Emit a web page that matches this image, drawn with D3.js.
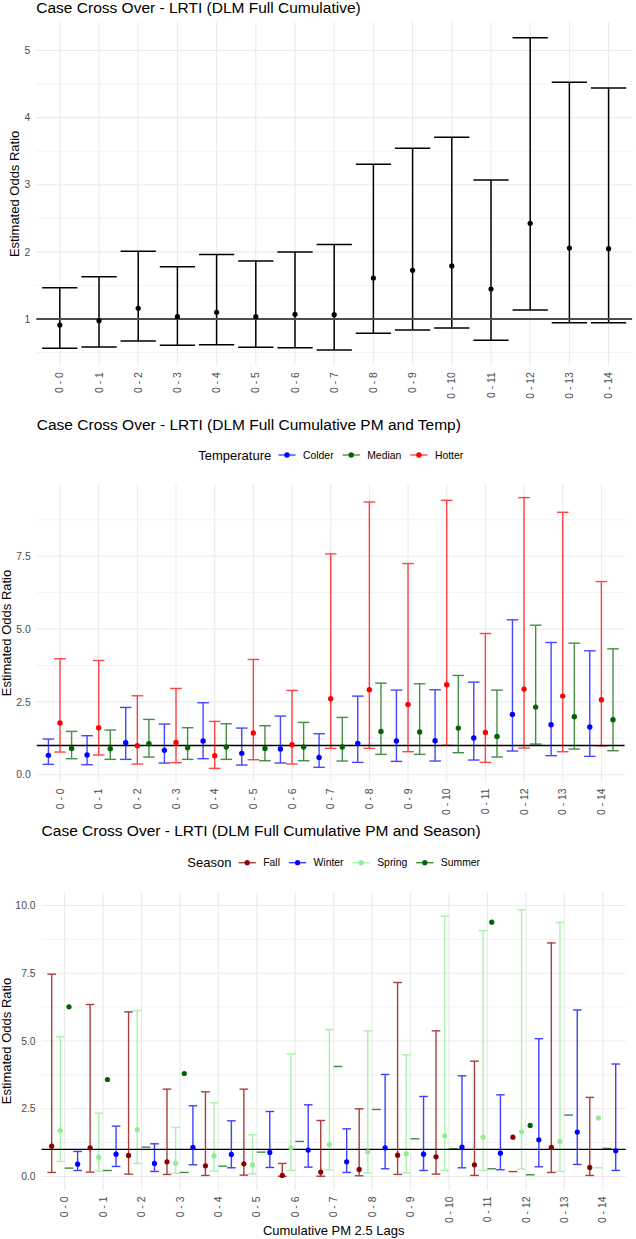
<!DOCTYPE html>
<html><head><meta charset="utf-8">
<script src="https://cdn.jsdelivr.net/npm/d3@7"></script>
<style>html,body{margin:0;padding:0;background:#fff;}svg{display:block;font-family:"Liberation Sans",Arial,Helvetica,sans-serif;}</style>
</head><body>
<svg id="chart" width="636" height="1239"></svg>
<script>
// ---------- data ----------
const lags = ["0 - 0","0 - 1","0 - 2","0 - 3","0 - 4","0 - 5","0 - 6","0 - 7","0 - 8","0 - 9","0 - 10","0 - 11","0 - 12","0 - 13","0 - 14"];

// Panel 1: overall
const p1Est   = [0.91, 0.975, 1.16, 1.035, 1.10, 1.035, 1.07, 1.065, 1.61, 1.725, 1.79, 1.447, 2.426, 2.058, 2.048];
const p1Lower = [0.563, 0.583, 0.672, 0.607, 0.617, 0.578, 0.573, 0.538, 0.786, 0.836, 0.866, 0.682, 1.134, 0.945, 0.945];
const p1Upper = [1.467, 1.63, 2.01, 1.78, 1.96, 1.865, 2.00, 2.11, 3.305, 3.544, 3.708, 3.07, 5.19, 4.528, 4.443];
const p1Ticks = [1, 2, 3, 4, 5];
const p1Minor = [0.5, 1.5, 2.5, 3.5, 4.5];

// Panel 2: temperature
const tempGroups = ["Colder", "Median", "Hotter"];
const colderEst   = [0.663, 0.675, 1.098, 0.835, 1.155, 0.732, 0.88, 0.594, 1.075, 1.155, 1.166, 1.258, 2.069, 1.715, 1.635];
const colderLower = [0.354, 0.343, 0.526, 0.40, 0.549, 0.332, 0.40, 0.252, 0.423, 0.457, 0.469, 0.503, 0.812, 0.652, 0.629];
const colderUpper = [1.223, 1.338, 2.309, 1.738, 2.469, 1.60, 2.012, 1.406, 2.698, 2.904, 2.915, 3.178, 5.316, 4.539, 4.253];
const medianEst   = [0.903, 0.892, 1.063, 0.926, 0.949, 0.903, 0.949, 0.949, 1.486, 1.463, 1.60, 1.315, 2.321, 1.989, 1.886];
const medianLower = [0.549, 0.526, 0.606, 0.526, 0.526, 0.48, 0.48, 0.469, 0.697, 0.697, 0.755, 0.606, 1.052, 0.88, 0.823];
const medianUpper = [1.486, 1.532, 1.898, 1.612, 1.749, 1.681, 1.795, 1.966, 3.144, 3.121, 3.407, 2.904, 5.133, 4.516, 4.321];
const hotterEst   = [1.772, 1.612, 0.995, 1.109, 0.652, 1.429, 1.029, 2.607, 2.915, 2.412, 3.087, 1.452, 2.938, 2.698, 2.572];
const hotterLower = [0.777, 0.675, 0.366, 0.412, 0.217, 0.514, 0.366, 0.903, 0.903, 0.789, 1.006, 0.423, 0.915, 0.789, 0.99];
const hotterUpper = [3.98, 3.921, 2.709, 2.961, 1.829, 3.956, 2.892, 7.58, 9.363, 7.248, 9.42, 4.847, 9.512, 9.009, 6.631];
const p2Ticks = [0, 2.5, 5, 7.5];
const p2Minor = [1.25, 3.75, 6.25, 8.75];

// Panel 3: season (null = outside the 0-10 limits, removed)
const seasonGroups = ["Fall", "Winter", "Spring", "Summer"];
const fallEst     = [1.119, 1.058, 0.775, 0.541, 0.394, 0.467, 0.037, 0.16, 0.258, 0.787, 0.726, 0.43, 1.45, 1.071, 0.333];
const fallLower   = [0.148, 0.16, 0.086, 0.074, 0.037, 0.049, 0.005, 0.01, 0.025, 0.074, 0.086, 0.037, 0.18, 0.148, 0.037];
const fallUpper   = [7.466, 6.347, 6.076, 3.223, 3.124, 3.223, 0.48, 2.066, 2.497, 7.159, 5.375, 4.256, null, 8.62, 2.919];
const winterEst   = [0.455, 0.824, 0.48, 1.07, 0.812, 0.886, 0.972, 0.541, 1.058, 0.824, 1.082, 0.861, 1.355, 1.638, 0.948];
const winterLower = [0.221, 0.369, 0.185, 0.43, 0.32, 0.332, 0.344, 0.148, 0.283, 0.221, 0.32, 0.246, 0.357, 0.443, 0.222];
const winterUpper = [0.923, 1.857, 1.205, 2.608, 2.054, 2.398, 2.645, 1.759, 3.764, 2.952, 3.715, 3.013, 5.086, 6.145, 4.15];
const springEst   = [1.697, 0.701, 1.734, 0.492, 0.763, 0.43, 1.058, 1.181, 0.91, 0.836, 1.501, 1.451, 1.65, 1.293, 2.155];
const springLower = [0.554, 0.197, 0.48, 0.123, 0.197, 0.098, 0.221, 0.246, 0.135, 0.135, 0.221, 0.221, 0.27, 0.185, 0.32];
const springUpper = [5.154, 2.337, 6.125, 1.808, 2.718, 1.538, 4.514, 5.424, 5.375, 4.49, 9.606, 9.077, 9.84, 9.372, null];
const summerEst   = [6.26, 3.579, null, 3.80, null, null, null, null, null, null, null, 9.385, 1.884, null, null];
const summerLower = [0.308, 0.221, 1.082, 0.148, 0.381, 0.898, 1.292, 4.059, 2.472, 1.39, 1.021, 0.283, 0.062, 2.266, 1.034];
const summerUpper = [null, null, null, null, null, null, null, null, null, null, null, null, null, null, null];
const p3Limits = [0, 10];
const p3Ticks = [0, 2.5, 5, 7.5, 10];
const p3Minor = [1.25, 3.75, 6.25, 8.75];

// ---------- drawing ----------
const svg = d3.select("#chart");
const FONT_TITLE = 15.5, FONT_AXIS_TITLE = 13, FONT_TICK = 10.4, FONT_LEG = 10.4;

function rows(group, est, lo, hi) {
  return est.map((e, i) => ({lag: lags[i], group, est: e, lower: lo[i], upper: hi[i]}));
}

function drawPanel(cfg) {
  const g = svg.append("g");
  const x = d3.scalePoint().domain(lags).range([cfg.left, cfg.right]).padding(0.6);
  const step = x.step();
  let yDomain;
  if (cfg.limits) yDomain = cfg.limits;
  else {
    const vals = [];
    cfg.data.forEach(d => { [d.lower, d.upper, d.est].forEach(v => { if (v != null) vals.push(v); }); });
    yDomain = d3.extent(vals);
  }
  const span = yDomain[1] - yDomain[0];
  const y = d3.scaleLinear().domain([yDomain[0] - 0.05 * span, yDomain[1] + 0.05 * span]).range([cfg.bottom, cfg.top]);
  const dodge = d3.scaleBand().domain(cfg.dodgeOrder).range([-0.45 * step, 0.45 * step]);
  const bw = dodge.bandwidth();
  const xPos = d => x(d.lag) + dodge(d.group) + bw / 2;
  const capHalf = cfg.capHalf != null ? cfg.capHalf(step) : bw / 2;

  // grid
  g.selectAll(".minor").data(cfg.minor).join("line")
    .attr("x1", cfg.left).attr("x2", cfg.right).attr("y1", d => y(d)).attr("y2", d => y(d))
    .attr("stroke", "#EBEBEB").attr("stroke-width", 0.6);
  g.selectAll(".major").data(cfg.ticks).join("line")
    .attr("x1", cfg.left).attr("x2", cfg.right).attr("y1", d => y(d)).attr("y2", d => y(d))
    .attr("stroke", "#EBEBEB").attr("stroke-width", 1.1);
  g.selectAll(".vgrid").data(lags).join("line")
    .attr("x1", d => x(d)).attr("x2", d => x(d)).attr("y1", cfg.top).attr("y2", cfg.bottom)
    .attr("stroke", "#EBEBEB").attr("stroke-width", 1.1);

  // y tick labels
  g.selectAll(".ytl").data(cfg.ticks).join("text")
    .attr("x", cfg.left - 6).attr("y", d => y(d)).attr("dy", "0.35em")
    .attr("text-anchor", "end").attr("font-size", FONT_TICK).attr("fill", "#4D4D4D")
    .text(d => cfg.tickFmt(d));
  // x tick labels
  g.selectAll(".xtl").data(lags).join("text")
    .attr("transform", d => `translate(${x(d)},${cfg.bottom + 6.5}) rotate(-90)`)
    .attr("dy", "0.35em").attr("text-anchor", "end")
    .attr("font-size", FONT_TICK).attr("fill", "#4D4D4D").text(d => d);

  // error bars
  const eb = g.append("g").attr("opacity", cfg.barOpacity);
  const withUpper = cfg.data.filter(d => d.upper != null && d.lower != null);
  eb.selectAll(".v").data(withUpper).join("line")
    .attr("x1", xPos).attr("x2", xPos).attr("y1", d => y(d.lower)).attr("y2", d => y(d.upper))
    .attr("stroke", d => cfg.color(d.group)).attr("stroke-width", cfg.barWidth);
  eb.selectAll(".cu").data(withUpper).join("line")
    .attr("x1", d => xPos(d) - capHalf).attr("x2", d => xPos(d) + capHalf)
    .attr("y1", d => y(d.upper)).attr("y2", d => y(d.upper))
    .attr("stroke", d => cfg.color(d.group)).attr("stroke-width", cfg.barWidth);
  eb.selectAll(".cl").data(cfg.data.filter(d => d.lower != null)).join("line")
    .attr("x1", d => xPos(d) - capHalf).attr("x2", d => xPos(d) + capHalf)
    .attr("y1", d => y(d.lower)).attr("y2", d => y(d.lower))
    .attr("stroke", d => cfg.color(d.group)).attr("stroke-width", cfg.barWidth);

  // reference line
  g.append("line").attr("x1", cfg.left).attr("x2", cfg.right).attr("y1", y(1)).attr("y2", y(1))
    .attr("stroke", cfg.hlineColor).attr("stroke-width", cfg.hlineWidth);

  // points
  g.selectAll(".pt").data(cfg.data.filter(d => d.est != null)).join("circle")
    .attr("cx", xPos).attr("cy", d => y(d.est)).attr("r", cfg.pointR)
    .attr("fill", d => cfg.color(d.group));

  // titles
  svg.append("text").attr("x", cfg.left).attr("y", cfg.titleY)
    .attr("font-size", FONT_TITLE).attr("fill", "#000").text(cfg.title);
  svg.append("text")
    .attr("transform", `translate(${cfg.yTitleX},${(cfg.top + cfg.bottom) / 2}) rotate(-90)`)
    .attr("dy", "0.35em").attr("text-anchor", "middle")
    .attr("font-size", FONT_AXIS_TITLE).attr("fill", "#000").text("Estimated Odds Ratio");
  if (cfg.xTitle) {
    svg.append("text").attr("x", (cfg.left + cfg.right) / 2).attr("y", cfg.xTitleY)
      .attr("text-anchor", "middle").attr("font-size", FONT_AXIS_TITLE).attr("fill", "#000").text(cfg.xTitle);
  }

  // legend (centred on the panel)
  if (cfg.legend) {
    const L = cfg.legend;
    const lg = svg.append("g");
    const t = lg.append("text").attr("y", L.y).attr("dy", "0.35em")
      .attr("font-size", FONT_AXIS_TITLE).attr("fill", "#000").text(L.title);
    let cx = t.node().getComputedTextLength() + 7.2;
    L.groups.forEach(gr => {
      const k = lg.append("g").attr("transform", `translate(${cx},0)`);
      k.append("line").attr("x1", 0).attr("x2", 17.2).attr("y1", L.y).attr("y2", L.y)
        .attr("stroke", cfg.color(gr)).attr("stroke-width", cfg.barWidth).attr("opacity", cfg.barOpacity);
      k.append("circle").attr("cx", 8.6).attr("cy", L.y).attr("r", cfg.pointR).attr("fill", cfg.color(gr));
      cx += 17.2 + 7.4;
      const lt = lg.append("text").attr("x", cx).attr("y", L.y).attr("dy", "0.35em")
        .attr("font-size", FONT_LEG).attr("fill", "#000").text(gr);
      cx += lt.node().getComputedTextLength() + 9;
    });
    const total = cx - 9;
    lg.attr("transform", `translate(${(cfg.left + cfg.right) / 2 - total / 2},0)`);
  }
}

// Panel 1
drawPanel({
  data: rows("All", p1Est, p1Lower, p1Upper),
  dodgeOrder: ["All"], color: () => "#000",
  left: 36.3, right: 632.1, top: 22.2, bottom: 365.6,
  ticks: p1Ticks, minor: p1Minor, tickFmt: d3.format("d"),
  capHalf: s => 0.45 * s, barWidth: 1.5, barOpacity: 1, pointR: 2.6,
  hlineColor: "#4D4D4D", hlineWidth: 1.8,
  title: "Case Cross Over - LRTI (DLM Full Cumulative)", titleY: 13, yTitleX: 14.3
});

// Panel 2
const tempColor = d3.scaleOrdinal().domain(tempGroups).range(["#0000FF", "#006400", "#FF0000"]);
drawPanel({
  data: [].concat(rows("Colder", colderEst, colderLower, colderUpper),
                  rows("Median", medianEst, medianLower, medianUpper),
                  rows("Hotter", hotterEst, hotterLower, hotterUpper)),
  dodgeOrder: tempGroups.slice().sort(), color: tempColor,
  left: 36.8, right: 624.6, top: 484.1, bottom: 781.9,
  ticks: p2Ticks, minor: p2Minor, tickFmt: d3.format(".1f"),
  barWidth: 1.4, barOpacity: 0.72, pointR: 2.7,
  hlineColor: "#000", hlineWidth: 1.4,
  title: "Case Cross Over - LRTI (DLM Full Cumulative PM and Temp)", titleY: 430, yTitleX: 6.3,
  legend: {title: "Temperature", groups: tempGroups, y: 455}
});

// Panel 3
const seasonColor = d3.scaleOrdinal().domain(seasonGroups).range(["#8B0000", "#0000FF", "#90EE90", "#006400"]);
drawPanel({
  data: [].concat(rows("Fall", fallEst, fallLower, fallUpper),
                  rows("Winter", winterEst, winterLower, winterUpper),
                  rows("Spring", springEst, springLower, springUpper),
                  rows("Summer", summerEst, summerLower, summerUpper)),
  dodgeOrder: seasonGroups.slice().sort(), color: seasonColor, limits: p3Limits,
  left: 41.6, right: 625.8, top: 892, bottom: 1190,
  ticks: p3Ticks, minor: p3Minor, tickFmt: d3.format(".1f"),
  barWidth: 1.4, barOpacity: 0.75, pointR: 2.6,
  hlineColor: "#000", hlineWidth: 1.4,
  title: "Case Cross Over - LRTI (DLM Full Cumulative PM and Season)", titleY: 836, yTitleX: 6.3,
  xTitle: "Cumulative PM 2.5 Lags", xTitleY: 1234.5,
  legend: {title: "Season", groups: seasonGroups, y: 862.7}
});
</script>
</body></html>
